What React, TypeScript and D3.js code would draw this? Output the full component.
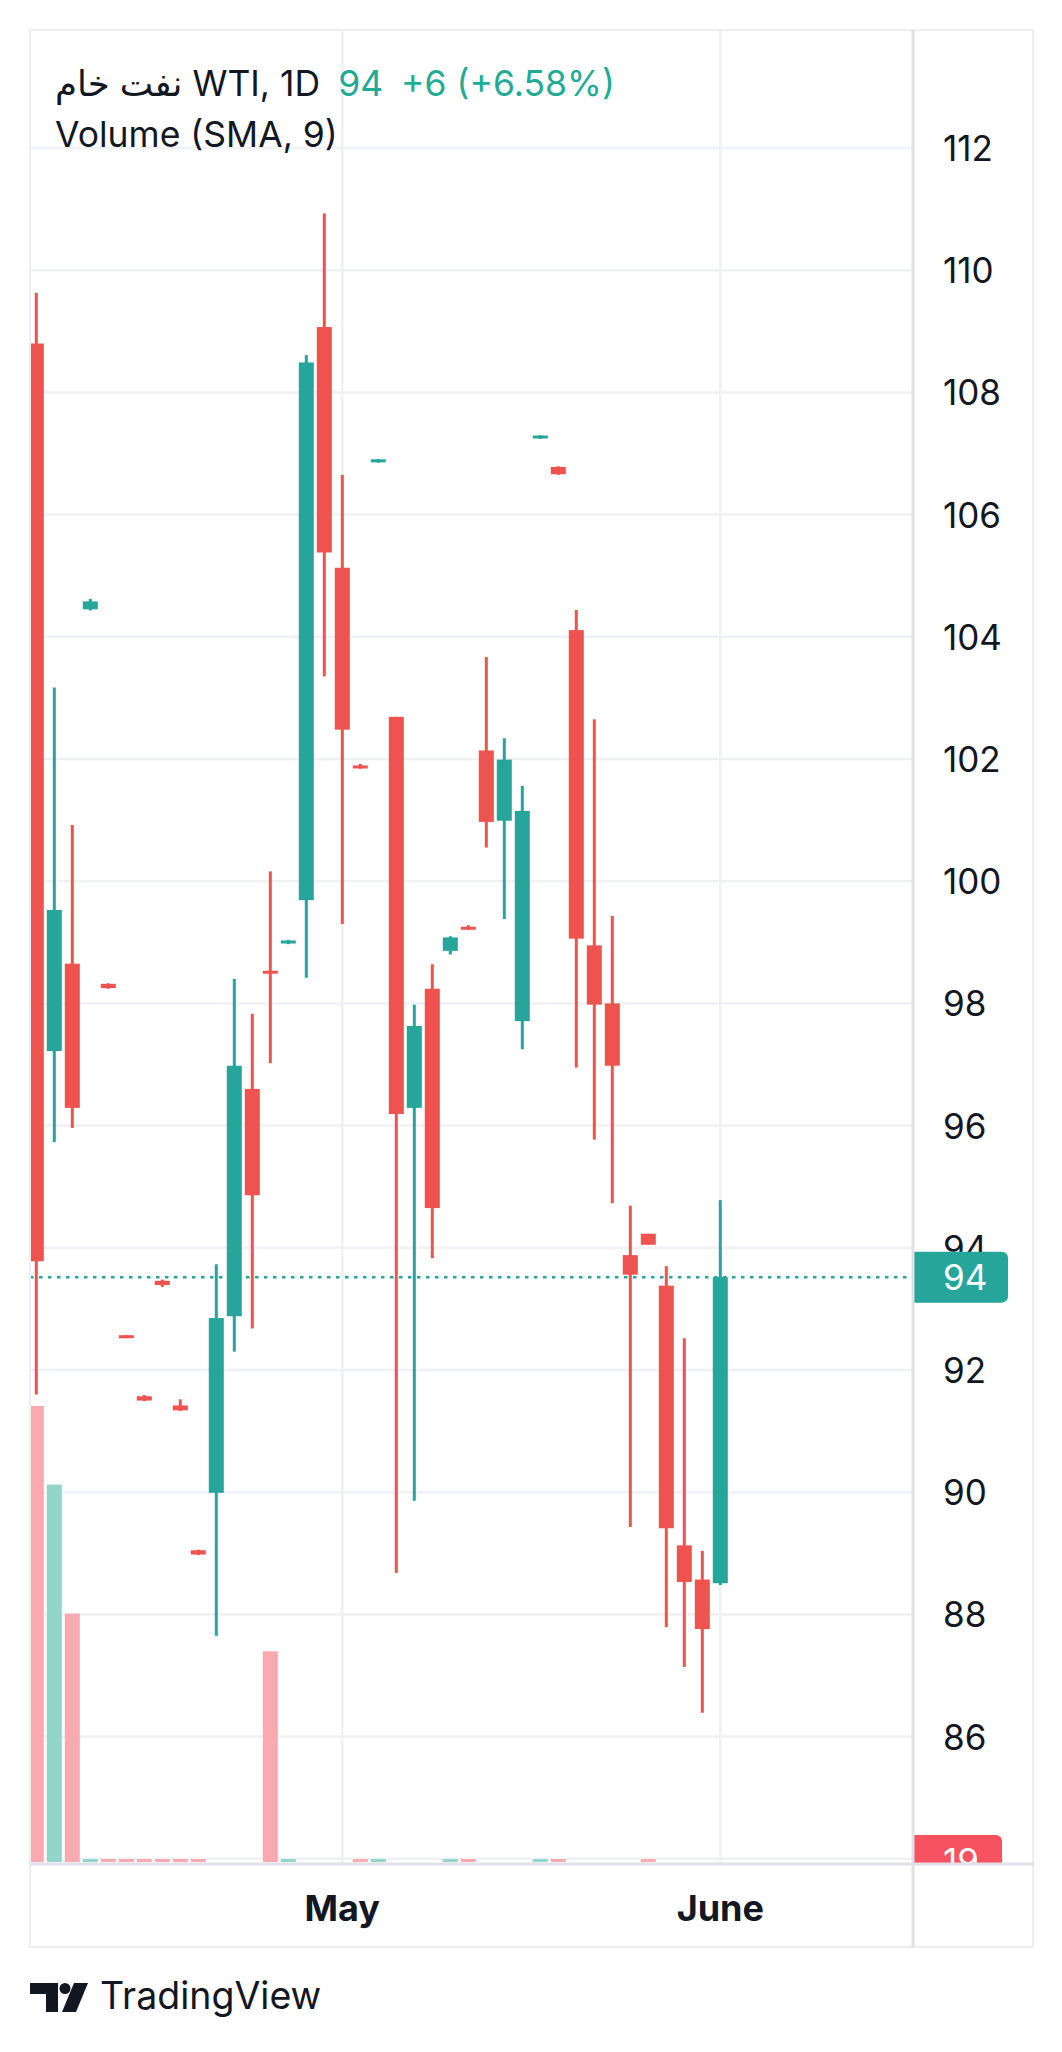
import * as d3 from 'd3'
import React from 'react'

// daily bars, oldest first
const opens = [108.8, 97.22, 98.65, 104.45, 98.32, 92.56, 91.57, 93.46, 91.42, 89.05, 89.99, 92.88, 96.6, 98.53, 98.98, 99.69, 109.07, 105.13, 101.89, 106.86, 102.69, 96.29, 98.24, 98.86, 99.25, 102.14, 100.99, 97.71, 107.25, 106.78, 104.11, 98.95, 98.0, 93.88, 94.23, 93.38, 89.13, 88.57, 88.51]
const highs = [109.63, 103.17, 100.92, 104.62, 98.33, 92.57, 91.59, 93.48, 91.52, 89.06, 93.73, 98.4, 97.83, 100.16, 99.04, 108.61, 110.93, 106.65, 101.92, 106.91, 102.69, 97.98, 98.64, 99.1, 99.28, 103.67, 102.34, 101.56, 107.3, 106.79, 104.44, 102.65, 99.43, 94.69, 94.23, 93.7, 92.52, 89.04, 94.78]
const lows = [91.6, 95.73, 95.96, 104.43, 98.24, 92.52, 91.49, 93.36, 91.33, 88.97, 87.65, 92.3, 92.68, 97.02, 98.97, 98.42, 103.35, 99.3, 101.84, 106.85, 88.68, 89.86, 93.83, 98.8, 99.2, 100.55, 99.38, 97.25, 107.24, 106.65, 96.95, 95.77, 94.73, 89.43, 94.05, 87.79, 87.14, 86.39, 88.48]
const closes = [93.78, 99.53, 96.29, 104.58, 98.25, 92.53, 91.5, 93.39, 91.34, 88.98, 92.85, 96.98, 94.86, 98.49, 99.03, 108.49, 105.38, 102.48, 101.85, 106.9, 96.19, 97.63, 94.65, 99.08, 99.21, 100.97, 101.99, 101.15, 107.29, 106.66, 99.06, 97.98, 96.98, 93.56, 94.05, 89.41, 88.53, 87.76, 93.52]
const volumes = [2900, 2400, 1580, 19, 19, 19, 19, 19, 19, 19, null, null, null, 1340, 19, null, null, null, 19, 19, null, null, null, 19, 19, null, null, null, 19, 19, null, null, null, null, 19, null, null, null, null]

const gridTicks = [112, 110, 108, 106, 104, 102, 100, 98, 96, 94, 92, 90, 88, 86, 84]
const labelTicks = [112, 110, 108, 106, 104, 102, 100, 98, 96, 94, 92, 90, 88, 86]
const monthTicks = [
  { label: 'May', bar: 17 },
  { label: 'June', bar: 38 },
]
const title = 'نفت خام WTI, 1D'
const lastText = '94'
const changeText = '+6 (+6.58%)'
const volumeTitle = 'Volume (SMA, 9)'
const lastVolumeText = '19'

const W = 1062
const H = 2052
const left = 30
const top = 30
const plotRight = 913
const frameRight = 1033
const plotBottom = 1864
const frameBottom = 1947

const UP = '#26a69a'
const DOWN = '#ef5350'
const font = "Inter, 'DejaVu Sans', sans-serif"

const App = () => {
  const x = d3.scaleLinear().domain([0, 38]).range([36.3, 720.3])
  const y = d3.scaleLinear().domain([86, 112]).range([1736.6, 148])
  const yVol = d3.scaleLinear().domain([0, 2900]).range([1862, 1406])
  const body = 15
  const wick = 3

  const bars = opens.map((o, i) => ({
    i,
    o,
    h: highs[i],
    l: lows[i],
    c: closes[i],
    v: volumes[i],
    up: closes[i] >= o,
  }))
  const last = closes[closes.length - 1]
  const yLast = y(last)
  const yVolLast = yVol(0)

  return (
    <svg
      width={W}
      height={H}
      style={{ position: 'absolute', left: 0, top: 0, background: '#fff' }}
      fontFamily={font}
    >
      <defs>
        <clipPath id="plot">
          <rect x={left} y={top} width={plotRight - left} height={plotBottom - top} />
        </clipPath>
        <clipPath id="axis">
          <rect x={plotRight} y={top} width={frameRight - plotRight} height={plotBottom - top} />
        </clipPath>
      </defs>
      <rect width={W} height={H} fill="#fff" />

      {/* grid */}
      <g clipPath="url(#plot)">
        {gridTicks.map((t) => (
          <line key={t} x1={left} x2={plotRight} y1={y(t)} y2={y(t)} stroke="#f0f1f4" strokeWidth={2.5} />
        ))}
        {monthTicks.map((m) => (
          <line key={m.label} x1={x(m.bar)} x2={x(m.bar)} y1={top} y2={plotBottom} stroke="#f0f1f4" strokeWidth={2.5} />
        ))}
      </g>

      {/* volume */}
      <g clipPath="url(#plot)">
        {bars
          .filter((b) => b.v != null)
          .map((b) => (
            <rect
              key={b.i}
              x={x(b.i) - body / 2}
              y={yVol(b.v)}
              width={body}
              height={yVol(0) - yVol(b.v)}
              fill={b.up ? '#92d5cb' : '#faa9ae'}
            />
          ))}
      </g>

      {/* candles */}
      <g clipPath="url(#plot)">
        {bars.map((b) => {
          const color = b.up ? UP : DOWN
          const yt = y(Math.max(b.o, b.c))
          const yb = y(Math.min(b.o, b.c))
          const hgt = Math.max(3, yb - yt)
          return (
            <g key={b.i}>
              <rect x={x(b.i) - wick / 2} y={y(b.h)} width={wick} height={y(b.l) - y(b.h)} fill={color} />
              <rect x={x(b.i) - body / 2} y={(yt + yb) / 2 - hgt / 2} width={body} height={hgt} fill={color} />
            </g>
          )
        })}
        <line
          x1={left}
          x2={plotRight}
          y1={yLast}
          y2={yLast}
          stroke={UP}
          strokeWidth={2.5}
          strokeDasharray="3.5 5.5"
        />
      </g>

      {/* header */}
      <text x={55} y={96} fontSize={35.5} fill="#131722">
        <tspan>{title}</tspan>
        <tspan dx={18} fill="#22ab94">{lastText}</tspan>
        <tspan dx={18} fill="#22ab94">{changeText}</tspan>
      </text>
      <text x={55} y={147} fontSize={35.5} fill="#131722">
        {volumeTitle}
      </text>

      {/* price axis */}
      <g clipPath="url(#axis)">
        {labelTicks.map((t) => (
          <text key={t} x={943} y={y(t)} fontSize={35} fill="#131722" dominantBaseline="central">
            {t}
          </text>
        ))}
        <path
          d={`M${plotRight},${yLast - 25.5}h89a6,6 0 0 1 6,6v39a6,6 0 0 1 -6,6h-89z`}
          fill={UP}
        />
        <text x={943} y={yLast} fontSize={35} fill="#fff" dominantBaseline="central">
          {lastText}
        </text>
        <path
          d={`M${plotRight},${yVolLast - 27}h83a6,6 0 0 1 6,6v39a6,6 0 0 1 -6,6h-83z`}
          fill="#f7525f"
        />
        <text x={943} y={yVolLast - 1} fontSize={35} fill="#fff" dominantBaseline="central">
          {lastVolumeText}
        </text>
      </g>

      {/* time axis */}
      {monthTicks.map((m) => (
        <text key={m.label} x={x(m.bar)} y={1921} fontSize={36} fontWeight={700} fill="#131722" textAnchor="middle">
          {m.label}
        </text>
      ))}

      {/* frame */}
      <rect x={left} y={top} width={frameRight - left} height={frameBottom - top} fill="none" stroke="#eceef2" strokeWidth={2} />
      <line x1={plotRight} x2={plotRight} y1={top} y2={frameBottom} stroke="#dfe1e6" strokeWidth={3} />
      <line x1={left} x2={frameRight} y1={plotBottom} y2={plotBottom} stroke="#dfe1e6" strokeWidth={3} />

      {/* logo */}
      <g fill="#131722">
        <path d="M30,1983h28v29h-12v-18h-16z" />
        <circle cx={65} cy={1988.5} r={5.5} />
        <path d="M74,1983h14l-12,29h-14z" />
      </g>
      <text x={100} y={2009} fontSize={37.5} fill="#131722">
        TradingView
      </text>
    </svg>
  )
}

export default App
